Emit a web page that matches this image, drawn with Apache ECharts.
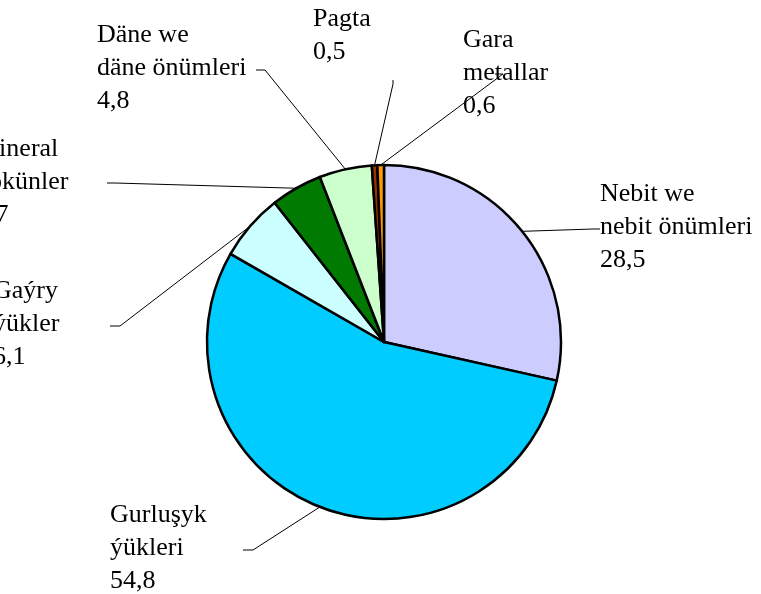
<!DOCTYPE html>
<html>
<head>
<meta charset="utf-8">
<script src="https://cdn.jsdelivr.net/npm/echarts@6/dist/echarts.min.js"></script>
<style>
html,body{margin:0;padding:0;background:#fff;}
#chart{width:761px;height:594px;}
</style>
</head>
<body>
<div id="chart"></div>
<script>
const categories = ["Nebit we\nnebit önümleri", "Gurluşyk\nýükleri", "Gaýry\nýükler", "Mineral\ndökünler", "Däne we\ndäne önümleri", "Pagta", "Gara\nmetallar"];
const values = [28.5, 54.8, 6.1, 4.7, 4.8, 0.5, 0.6];
const colors = ["#CCCCFF", "#00CCFF", "#CCFFFF", "#007A00", "#CCFFCC", "#993300", "#FF9900"];

// label layout: text centre and guide line bend points (layout only)
const labelPos = [
  {x: 680, y: 229, pts: [[593, 229], [600, 229]]},
  {x: 190, y: 550, pts: [[253, 550], [243, 550]]},
  {x: 73,  y: 326, pts: [[120, 326], [110, 326]]},
  {x: 56,  y: 184, pts: [[115, 183], [107, 183]]},
  {x: 177, y: 70,  pts: [[265, 70], [256, 70]]},
  {x: 393, y: 38,  pts: [[393, 84], [393, 80]]},
  {x: 543, y: 75,  pts: [[503, 74], [495, 74]]}
];
const LINE_H = 33;
const FAMILY = 'Liberation Serif';

function labelText(i) {
  return categories[i] + '\n' + String(values[i]).replace('.', ',');
}

// visible label text, one single-line text per row, centred on the label block
const textEls = [];
categories.forEach((c, i) => {
  const rows = labelText(i).split('\n');
  rows.forEach((row, k) => {
    textEls.push({
      type: 'text',
      left: labelPos[i].x - 80,
      top: labelPos[i].y + (k - (rows.length - 1) / 2) * LINE_H - 15,
      silent: true,
      style: {text: row, fontFamily: FAMILY, fontSize: 26, fill: '#000', width: 160, align: 'center'}
    });
  });
});

const chart = echarts.init(document.getElementById('chart'));
chart.setOption({
  animation: false,
  textStyle: {fontFamily: FAMILY},
  graphic: {elements: textEls},
  series: [{
    type: 'pie',
    center: [384, 342],
    radius: 177,
    startAngle: 90,
    data: categories.map((c, i) => ({name: c, value: values[i], itemStyle: {color: colors[i]}})),
    itemStyle: {borderColor: '#000', borderWidth: 2.5},
    label: {
      show: true,
      formatter: '.',
      fontFamily: FAMILY,
      fontSize: 12,
      color: 'rgba(0,0,0,0)'
    },
    labelLine: {show: true, length: 10, length2: 10, lineStyle: {color: '#000', width: 1}},
    labelLayout: function (params) {
      const lp = labelPos[params.dataIndex];
      const start = params.labelLinePoints ? params.labelLinePoints[0] : lp.pts[0];
      return {
        x: lp.x,
        y: lp.y,
        labelLinePoints: [start, lp.pts[0], lp.pts[1]]
      };
    }
  }]
});
</script>
</body>
</html>
